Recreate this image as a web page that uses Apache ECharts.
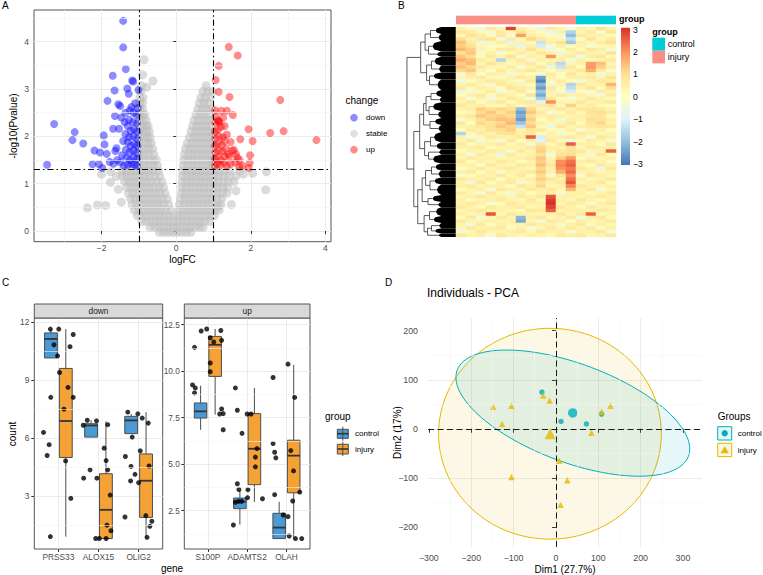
<!DOCTYPE html>
<html>
<head>
<meta charset="utf-8">
<script src="https://cdn.jsdelivr.net/npm/echarts@6/dist/echarts.min.js"></script>
<style>
html, body { margin: 0; padding: 0; background: #fff; }
#chart { width: 763px; height: 575px; }
</style>
</head>
<body>
<div id="chart"></div>
<script>
const FONT = '"Liberation Sans", Arial, Helvetica, sans-serif';
const MINUS = '\u2212';

// ---------- A: volcano (logFC, -log10 p) ----------
const volcanoDown = [
  [-1.42,4.44],[-1.42,3.88],[-1.35,3.42],[-1.70,3.28],[-1.18,3.18],[-1.15,3.16],[-1.65,2.97],[-1.31,3.01],
  [-1.27,2.90],[-1.01,2.98],[-1.84,2.75],[-1.55,2.68],[-1.50,2.64],[-1.64,2.43],[-3.27,2.26],[-2.72,2.09],
  [-2.78,1.92],[-2.49,1.85],[-1.94,2.02],[-1.92,1.83],[-2.19,1.70],[-2.04,1.66],[-1.86,1.63],[-2.24,1.41],
  [-2.07,1.41],[-1.98,1.33],[-3.46,1.40],[-1.78,1.46],[-1.63,1.69],[-1.69,2.16],[-1.53,2.16],
  [-1.05,1.38],[-1.12,1.40],[-1.20,1.42],[-1.30,1.40],[-1.40,1.38],[-1.50,1.45],[-1.05,1.52],[-1.14,1.55],
  [-1.24,1.50],[-1.34,1.55],[-1.45,1.60],[-1.05,1.66],[-1.15,1.70],[-1.25,1.66],[-1.35,1.72],[-1.04,1.80],
  [-1.12,1.84],[-1.22,1.80],[-1.30,1.88],[-1.42,1.90],[-1.05,1.95],[-1.15,2.00],[-1.26,1.98],[-1.36,2.05],
  [-1.04,2.10],[-1.13,2.15],[-1.22,2.12],[-1.30,2.22],[-1.05,2.28],[-1.16,2.30],[-1.26,2.35],[-1.38,2.30],
  [-1.06,2.45],[-1.14,2.50],[-1.24,2.55],[-1.03,2.60],[-1.10,2.70],[-1.36,2.50],[-1.58,1.50],[-1.60,1.75],
  [-1.68,1.42],[-1.47,2.40],[-1.20,2.62]
];
const volcanoUp = [
  [1.41,3.89],[1.65,3.71],[1.14,3.49],[1.06,3.19],[1.14,2.94],[1.43,2.83],[2.79,2.77],[1.21,2.54],
  [1.36,2.54],[1.52,2.45],[1.12,2.33],[1.94,2.15],[2.52,2.07],[2.88,2.11],[3.76,1.92],[2.05,1.90],
  [1.72,1.94],[1.55,1.71],[1.98,1.60],[1.97,1.44],[1.69,1.36],[1.94,1.33],[1.64,1.55],[1.42,1.57],
  [1.04,1.38],[1.10,1.42],[1.18,1.40],[1.28,1.44],[1.36,1.38],[1.46,1.42],[1.04,1.52],[1.12,1.56],
  [1.20,1.50],[1.30,1.58],[1.40,1.62],[1.05,1.66],[1.14,1.70],[1.24,1.68],[1.34,1.74],[1.50,1.70],
  [1.04,1.80],[1.12,1.85],[1.22,1.82],[1.30,1.90],[1.46,1.88],[1.05,1.96],[1.15,2.00],[1.25,1.98],
  [1.36,2.04],[1.04,2.10],[1.12,2.14],[1.20,2.20],[1.30,2.22],[1.05,2.28],[1.14,2.32],[1.06,2.42],
  [1.16,2.30],[1.26,2.40],[1.04,2.55],[1.58,1.45],[1.60,1.62],[1.70,1.50],[1.78,1.38]
];
// stable genes, by -log10 p level: [y, [logFC values]]
const stableRows = [
  [-0.03, [-0.45,-0.33,-0.21,-0.09,0.03,0.15,0.27,0.39]],
  [0.08, [-0.7,-0.58,-0.46,-0.34,-0.22,-0.1,0.02,0.14,0.26,0.38,0.5,0.62,0.72]],
  [0.2, [-0.92,-0.8,-0.68,-0.56,-0.44,-0.32,-0.2,-0.08,0.04,0.16,0.28,0.4,0.52,0.64,0.76,0.9]],
  [0.32, [-1.04,-0.92,-0.8,-0.68,-0.56,-0.44,-0.32,-0.2,-0.08,0.06,0.18,0.3,0.42,0.54,0.66,0.78,0.9,1.02]],
  [0.44, [-1.12,-1.0,-0.88,-0.76,-0.64,-0.52,-0.4,-0.28,-0.14,0.08,0.2,0.32,0.44,0.56,0.68,0.8,0.92,1.04,1.15]],
  [0.56, [-1.18,-1.06,-0.94,-0.82,-0.7,-0.58,-0.46,-0.34,-0.2,0.09,0.22,0.34,0.46,0.58,0.7,0.82,0.94,1.06,1.2]],
  [0.68, [-1.22,-1.1,-0.98,-0.86,-0.74,-0.62,-0.5,-0.38,-0.24,0.12,0.24,0.36,0.48,0.6,0.72,0.84,0.96,1.08,1.22]],
  [0.8, [-1.28,-1.16,-1.04,-0.92,-0.8,-0.68,-0.56,-0.44,-0.3,0.14,0.26,0.38,0.5,0.62,0.74,0.86,0.98,1.1,1.24,1.36]],
  [0.92, [-1.32,-1.2,-1.08,-0.96,-0.84,-0.72,-0.6,-0.46,-0.34,0.15,0.27,0.39,0.51,0.63,0.75,0.87,0.99,1.11,1.25,1.38]],
  [1.04, [-1.38,-1.26,-1.14,-1.02,-0.9,-0.78,-0.66,-0.52,-0.38,0.16,0.28,0.4,0.52,0.64,0.76,0.88,1.0,1.12,1.26,1.4,1.55]],
  [1.16, [-1.44,-1.32,-1.2,-1.08,-0.96,-0.84,-0.72,-0.58,-0.44,0.17,0.29,0.41,0.53,0.65,0.77,0.89,1.01,1.13,1.27,1.42,1.6]],
  [1.27, [-1.46,-1.34,-1.22,-1.1,-0.98,-0.86,-0.74,-0.62,-0.48,0.18,0.3,0.42,0.54,0.66,0.78,0.9,1.02,1.14,1.28,1.44,1.7]],
  [1.38, [-0.98,-0.86,-0.74,-0.62,-0.5,0.19,0.31,0.43,0.55,0.67,0.79,0.91,0.99]],
  [1.5, [-0.98,-0.86,-0.74,-0.62,-0.53,0.2,0.32,0.44,0.56,0.68,0.8,0.92,0.99]],
  [1.62, [-0.98,-0.86,-0.74,-0.6,0.22,0.34,0.46,0.58,0.7,0.82,0.94]],
  [1.74, [-0.98,-0.86,-0.74,-0.63,0.25,0.37,0.49,0.61,0.73,0.85,0.97]],
  [1.86, [-0.98,-0.87,-0.76,-0.67,0.3,0.42,0.54,0.66,0.78,0.9,0.99]],
  [1.98, [-0.98,-0.88,-0.78,-0.7,0.36,0.48,0.6,0.72,0.84,0.96]],
  [2.1, [-0.98,-0.88,-0.79,-0.72,0.4,0.52,0.64,0.76,0.88,0.98]],
  [2.22, [-0.98,-0.89,-0.8,-0.75,0.44,0.56,0.68,0.8,0.92]],
  [2.34, [-0.98,-0.9,-0.81,0.48,0.6,0.72,0.84,0.96]],
  [2.46, [-0.98,-0.9,-0.84,0.53,0.65,0.77,0.89]],
  [2.58, [-0.98,-0.9,0.58,0.7,0.82,0.94]],
  [2.7, [-0.98,-0.9,0.62,0.74,0.86]],
  [2.82, [-0.97,-0.89,0.66,0.78,0.92]],
  [2.95, [-0.95,0.72,0.84,0.97]],
  [3.07, [-0.93,0.8]]
];
const stableOutliers = [
  [-0.86,3.62],[-0.62,3.17],[-0.79,3.04],[-0.9,3.3],[2.42,1.25],[2.4,0.87],[1.48,0.56],[1.13,0.52],
  [-2.38,0.49],[-2.11,0.55],[-1.89,0.54],[-1.76,1.03],[-1.47,0.61],[-1.6,1.15],[-1.55,0.88],[1.6,0.85],
  [1.8,1.2],[2.05,1.22],[-2.0,1.2],[-1.75,1.25]
];
const volcanoStable = stableRows.flatMap(([y, xs]) => xs.map(x => [x, y])).concat(stableOutliers);
const pCut = 1.3;
const fcCut = 1;

// ---------- B: heatmap ----------
const sampleGroups = ['injury','injury','injury','injury','injury','injury','injury','injury',
  'injury','injury','injury','injury','control','control','control','control'];
const heatRows = [
  [0.4,0.2,-0.5,0.7,0.3,2.8,0.5,0.1,-0.6,0.6,0.3,-0.3,0.5,0.2,0.9,0.4],
  [0.8,0.6,0.2,-0.4,0.6,0.3,0.9,0.4,0.2,-0.7,0.5,-1.6,0.3,0.7,-0.3,0.8],
  [0.2,0.9,0.6,0.1,0.7,-0.3,1.8,0.6,0.3,0.1,-0.5,-2.0,0.7,0.4,0.5,0.1],
  [1.0,0.4,0.7,0.9,-0.4,0.6,0.2,1.1,0.7,0.4,0.2,-1.4,-0.3,0.8,0.2,0.6],
  [1.4,0.7,-0.6,0.3,0.6,-0.9,0.4,0.2,-1.3,0.5,0.9,-1.8,0.5,0.3,0.6,1.0],
  [1.2,0.9,0.3,-0.3,0.1,0.4,-0.7,0.5,-1.1,-0.4,0.5,0.1,0.4,-0.4,0.2,0.3],
  [1.5,1.2,0.4,0.2,0.6,0.7,0.3,0.9,0.4,-0.6,0.1,0.6,0.2,0.8,0.5,-0.4],
  [0.9,1.3,-0.4,0.5,-0.4,0.2,0.6,0.3,0.7,0.4,-0.7,0.3,0.7,0.4,0.3,0.9],
  [1.3,1.0,0.2,0.7,0.4,0.9,-0.3,0.5,0.3,1.9,0.4,0.6,-0.5,0.6,0.8,0.2],
  [1.6,1.4,0.6,0.3,-1.6,0.4,0.7,-0.4,0.5,0.2,0.6,-0.5,0.5,0.1,0.4,0.7],
  [1.2,1.5,0.3,0.8,0.5,0.1,0.4,0.7,0.2,0.6,-1.5,0.3,0.4,1.8,1.4,0.3],
  [1.4,1.1,0.7,0.4,0.2,0.6,-0.4,0.4,0.7,-0.7,-1.3,0.7,0.1,1.9,1.2,0.5],
  [1.1,1.3,0.4,-0.3,0.7,0.3,0.5,0.8,0.4,0.1,0.5,0.4,0.7,1.6,0.6,-0.3],
  [-0.4,0.7,-0.3,0.5,0.4,-0.5,0.3,0.1,-0.5,0.6,-0.3,0.8,0.3,0.5,-0.4,0.4],
  [0.3,0.5,0.7,0.2,0.1,0.4,0.7,0.5,-2.4,0.4,0.1,0.5,0.5,0.7,0.3,0.8],
  [-0.6,0.1,0.4,0.7,0.6,0.3,-0.3,0.7,-2.8,0.2,0.6,0.1,-0.4,0.4,0.7,0.5],
  [0.4,0.6,0.3,-0.4,0.7,0.5,0.4,0.2,-2.1,-0.6,0.4,-1.6,0.7,0.3,0.5,1.5],
  [0.7,0.2,0.5,0.4,0.1,0.8,0.6,0.4,-2.5,0.7,0.2,-1.4,0.4,0.8,0.1,1.0],
  [-0.6,-0.4,0.2,0.6,-0.5,0.3,0.7,-0.3,-1.9,0.4,-0.5,-1.1,0.1,-0.4,0.6,0.4],
  [0.1,0.5,0.7,0.2,0.6,0.4,0.1,0.8,-2.3,0.3,0.7,0.4,0.5,0.3,-0.5,0.7],
  [0.5,-0.3,0.4,-0.5,0.3,0.7,0.4,-0.4,-1.7,0.7,0.1,-0.4,0.3,0.7,0.4,0.2],
  [0.3,0.7,0.1,0.4,0.7,0.2,0.5,0.7,-0.9,2.0,0.4,0.3,0.7,0.4,0.5,0.7],
  [0.7,0.4,0.5,0.2,0.1,0.6,0.3,0.4,0.6,0.7,0.3,1.2,0.4,0.6,0.2,0.1],
  [0.4,0.5,1.2,1.0,1.1,0.9,-2.0,1.1,0.3,0.5,0.7,0.4,0.7,0.8,0.7,0.4],
  [0.1,0.3,1.0,1.3,0.8,1.2,-2.4,1.3,0.7,-0.4,0.1,0.7,0.3,0.9,1.0,0.7],
  [0.5,0.7,1.3,1.1,1.2,1.0,-2.2,0.9,0.4,0.6,0.5,0.3,0.5,0.7,0.8,0.2],
  [-0.3,0.4,0.9,1.2,1.4,1.3,-2.5,1.2,0.1,0.4,-0.5,0.5,0.4,1.0,0.9,0.5],
  [0.7,0.1,1.1,0.8,1.1,1.5,-1.9,1.0,0.5,0.2,0.4,0.7,0.1,0.8,1.1,0.4],
  [0.4,0.5,0.7,1.0,1.3,1.1,-1.3,1.3,0.2,-0.6,0.7,0.3,0.5,0.6,0.7,0.7],
  [0.1,0.7,0.5,0.9,1.0,1.2,0.4,0.8,0.7,0.2,0.1,0.5,-0.3,0.4,0.5,0.1],
  [-1.6,0.3,0.6,0.4,0.8,0.9,0.5,0.6,0.1,0.5,-0.4,0.2,0.7,0.5,0.3,0.4],
  [0.5,-0.4,0.3,0.7,0.5,0.4,0.7,2.5,-1.1,0.4,0.5,0.7,0.4,-0.3,0.7,0.5],
  [0.3,0.7,-0.5,0.3,-0.4,0.7,0.1,0.5,-1.0,0.7,0.2,-0.5,0.1,0.6,0.4,-0.4],
  [0.7,0.1,0.4,0.5,0.7,0.2,0.5,-0.4,0.7,0.2,0.7,2.5,0.5,0.4,0.1,0.7],
  [0.4,0.5,0.7,0.1,0.3,0.5,0.4,0.7,1.1,0.5,0.4,0.8,0.3,0.7,0.5,0.4],
  [0.1,0.4,0.3,0.7,0.5,-0.3,0.7,0.3,1.2,0.4,0.7,0.9,0.7,0.3,0.4,2.5],
  [0.5,-0.4,0.7,0.4,-0.6,0.7,0.3,0.5,1.0,-0.4,0.9,1.0,0.4,-0.5,0.7,0.2],
  [0.3,0.7,0.4,0.5,0.3,0.4,0.5,0.7,1.3,0.3,1.2,1.8,0.1,0.4,0.3,0.5],
  [0.7,0.1,0.5,0.3,0.7,0.5,0.1,0.4,1.2,0.5,2.0,2.3,0.5,0.7,0.4,0.1],
  [0.4,0.5,-0.3,0.7,0.4,0.3,0.7,0.5,1.4,0.7,2.1,2.5,0.3,0.1,0.7,0.4],
  [0.1,0.4,0.7,0.3,0.5,0.7,0.4,0.3,1.1,0.4,1.9,2.2,0.7,0.4,-0.6,0.7],
  [0.5,0.7,0.1,0.5,-0.3,0.4,0.5,0.7,1.3,0.5,1.6,2.4,0.4,0.5,0.3,0.4],
  [-0.4,0.1,0.5,0.4,0.7,0.3,0.7,0.1,1.0,-0.3,0.8,2.0,-0.3,0.7,0.5,0.3],
  [0.7,0.5,0.4,0.7,0.1,0.5,0.3,0.5,1.2,0.7,0.5,2.3,0.5,0.3,0.4,0.7],
  [0.4,-0.5,0.7,0.1,0.5,0.7,-0.4,0.3,0.9,0.4,0.7,2.6,0.3,0.5,0.7,0.1],
  [0.5,0.7,0.3,0.5,0.4,0.1,0.7,0.5,1.1,0.3,0.4,2.1,0.7,0.4,0.3,0.5],
  [0.1,0.4,0.5,-0.4,0.7,0.5,0.3,0.7,0.5,0.7,0.3,1.5,0.4,0.7,-0.4,0.3],
  [0.7,0.3,-0.4,0.7,0.3,-0.5,0.5,0.1,0.4,0.5,-0.4,0.4,0.5,0.1,0.4,0.7],
  [0.3,0.5,0.7,0.4,0.5,0.3,0.7,0.4,0.7,2.6,0.4,0.5,0.3,0.5,0.7,0.4],
  [0.5,0.1,0.3,0.5,0.7,0.4,0.3,0.7,0.3,2.9,0.5,0.3,0.7,0.4,0.1,0.5],
  [0.4,0.7,0.5,-0.3,0.1,0.7,0.4,0.5,0.5,3.0,0.3,0.7,0.4,-0.3,0.5,0.7],
  [0.7,0.4,0.1,0.7,0.4,0.5,0.7,0.3,0.4,2.8,0.7,0.4,0.1,0.7,0.4,0.3],
  [0.3,0.5,0.7,0.4,0.5,0.3,0.1,0.7,0.7,2.5,0.4,0.5,0.5,0.4,0.7,0.5],
  [0.5,0.3,0.4,2.6,0.3,0.7,0.5,0.4,0.3,0.5,0.7,0.3,0.7,2.5,0.3,0.4],
  [0.1,0.7,-0.4,0.3,0.7,0.4,-2.1,0.5,0.7,0.3,0.4,0.7,-0.5,0.5,0.7,0.1],
  [0.7,0.4,0.3,0.5,0.4,0.5,-2.3,0.3,-0.4,0.7,0.5,0.1,0.5,0.3,0.4,0.7],
  [0.4,-0.5,0.7,0.1,0.5,0.3,0.4,0.7,0.5,0.4,-0.3,0.5,0.7,-0.4,0.5,0.3],
  [0.3,0.7,0.4,0.5,0.7,0.1,0.5,-0.4,0.3,0.7,0.4,0.7,0.3,0.7,0.1,0.5],
  [-0.5,0.3,0.7,0.4,0.3,0.5,0.7,0.3,0.7,0.4,0.5,-0.3,0.4,0.5,0.7,-0.4],
  [0.7,0.4,0.5,-0.3,0.7,0.4,0.3,0.5,0.4,0.3,0.7,0.5,0.7,0.3,0.4,0.7]
];
// dendrogram: leaf clusters [firstRow, lastRow, height] and merges [nodeA, nodeB, height]
const dendroLeaves = [
  [0,2,4.2],[2,4,3.6],[4,7,4.8],[7,8.5,3.9],[8.5,11,4.4],[11,13,3.5],[13,15,4.6],[15,18,3.8],
  [18,20,4.1],[20,21.5,3.4],[21.5,24,4.7],[24,26,3.7],[26,28,4.3],[28,30,3.6],[30,33,4.5],
  [33,35,4.0],[35,36.5,3.5],[36.5,39,4.7],[39,41,4.2],[41,43,3.6],[43,45,4.4],[45,48,3.9],
  [48,50,4.8],[50,51.5,3.7],[51.5,54,4.1],[54,56,4.6],[56,57.5,3.5],[57.5,59,4.3],[59,60,3.6]
];
const dendroMerges = [
  [0,1,5.2],[2,3,5.6],[29,30,6.3],[4,5,5.0],[6,7,5.4],[32,33,6.0],[31,34,7.2],
  [8,9,5.1],[10,11,5.5],[36,37,6.1],[12,13,5.3],[38,39,6.6],[14,15,5.2],[16,17,5.6],
  [41,42,6.4],[40,43,7.4],[18,19,5.0],[20,21,5.3],[45,46,6.2],[22,23,5.7],[47,48,6.9],
  [24,25,5.4],[26,27,5.0],[51,28,5.8],[50,52,6.5],[49,53,7.8],[44,54,8.6],[35,55,10]
];

// ---------- C: boxplots ----------
const downGenes = ['PRSS33','ALOX15','OLIG2'];
const upGenes = ['S100P','ADAMTS2','OLAH'];
// [min, q1, median, q3, max]
const downControl = [[10.14,10.14,11.12,11.43,11.63],[6.06,6.06,6.66,6.75,6.93],[6.24,6.24,6.92,7.13,7.26]];
const downInjury = [[0.93,5.01,6.89,9.60,11.63],[0.83,0.83,2.31,4.17,6.87],[0.85,1.92,3.81,5.19,7.35]];
const upControl = [[6.85,7.48,7.84,8.29,9.22],[1.75,2.61,2.99,3.18,3.60],[1.0,1.0,1.59,2.36,2.98]];
const upInjury = [[7.66,9.72,11.42,11.87,12.27],[2.97,3.90,5.83,7.72,9.10],[1.0,3.46,5.46,6.29,10.34]];
// [gene index, jitter, count]
const downPoints = [
  [0,-0.20,11.63],[0,0.01,11.63],[0,-0.11,10.82],[0,-0.02,10.25],[0,0.03,9.39],[0,0.29,10.72],
  [0,0.37,11.35],[0,0.24,8.62],[0,0.37,8.11],[0,0.14,7.50],[0,-0.37,6.30],[0,-0.23,5.67],
  [0,-0.28,5.11],[0,-0.19,8.11],[0,0.18,4.83],[0,0.31,2.90],[0,-0.20,0.93],
  [1,-0.38,6.67],[1,-0.28,6.93],[1,-0.05,6.90],[1,-0.21,4.37],[1,-0.37,3.94],[1,-0.04,3.94],
  [1,0.14,5.49],[1,0.19,4.85],[1,0.23,4.37],[1,0.23,6.70],[1,0.29,3.07],[1,0.31,1.23],
  [1,0.21,1.52],[1,-0.07,0.83],[1,0.02,0.83],[1,0.19,0.83],
  [2,-0.27,7.35],[2,-0.02,7.26],[2,0.09,7.04],[2,-0.16,6.06],[2,-0.33,5.06],[2,0.04,5.35],
  [2,-0.19,4.55],[2,-0.09,4.14],[2,-0.20,3.80],[2,0.00,3.71],[2,0.26,4.57],[2,0.24,6.78],
  [2,-0.34,1.94],[2,0.18,2.01],[2,0.33,1.72],[2,0.28,1.46],[2,0.21,0.89]
];
const upPoints = [
  [0,-0.34,11.28],[0,-0.17,12.16],[0,-0.03,12.27],[0,0.06,11.80],[0,0.15,11.57],[0,0.33,12.19],
  [0,0.35,11.66],[0,0.06,10.44],[0,0.06,9.97],[0,-0.39,9.26],[0,-0.32,9.10],[0,-0.34,8.83],
  [0,0.35,7.97],[0,0.30,7.70],[0,0.39,7.72],[0,0.39,6.85],
  [1,-0.30,9.10],[1,-0.25,7.90],[1,-0.13,6.66],[1,0.00,7.70],[1,0.10,7.70],[1,0.25,5.84],
  [1,0.21,5.38],[1,0.21,4.86],[1,-0.25,3.95],[1,-0.21,3.64],[1,0.02,3.63],[1,-0.35,1.73],
  [1,-0.30,2.95],[1,-0.22,3.00],[1,-0.14,3.00],[1,0.01,3.20],[1,0.39,3.14],
  [2,-0.34,9.66],[2,0.04,10.38],[2,0.21,8.59],[2,-0.34,6.11],[2,-0.30,5.64],[2,-0.27,5.34],
  [2,0.11,5.73],[2,0.18,4.64],[2,0.34,3.50],[2,0.16,3.02],[2,-0.30,3.36],[2,-0.08,2.27],
  [2,0.04,2.18],[2,0.07,1.14],[2,0.23,1.00],[2,0.39,1.00]
];

// ---------- D: PCA ----------
const pcaControl = [[-33,75],[12,15],[72,10],[108,30]];
const pcaInjury = [[-148,45],[-105,47],[-127,10],[-30,68],[-15,58],[108,35],[129,47],[84,-8],
  [8,-65],[27,-105],[11,-155],[-105,-98]];
// [cx, cy, semi-axis a, semi-axis b, angle in degrees]
const ellipseInjury = [-14,-10,263,215,0];
const ellipseControl = [40,32,287,102,-17];

// ---------- colours ----------
const C_CONTROL = '#4B9AD5', C_INJURY = '#F4A236';
const PCA_CONTROL = '#00AFBB', PCA_INJURY = '#E7B800';
const ANNOT = { control: '#00CED6', injury: '#F98F87' };
const HEAT = ['#4575B4','#91BFDB','#E0F3F8','#FFFFBF','#FEE090','#FC8D59','#D73027'];

const fmtNum = v => String(v).replace('-', MINUS);
const mean = (pts, i) => pts.reduce((s, p) => s + p[i], 0) / pts.length;

function valueAxis(gi, min, max, step, ticks, fmt, o = {}) {
  return {
    type: 'value', gridIndex: gi, min, max, minInterval: step, maxInterval: step,
    axisLine: { show: false },
    axisTick: { show: true, length: o.tickLen || 3, customValues: ticks, lineStyle: { color: '#333', width: 1 } },
    axisLabel: { customValues: ticks, formatter: fmt, fontSize: o.fontSize || 8.5, color: '#4D4D4D',
      fontFamily: FONT, margin: o.margin || 4 },
    splitLine: { show: true, showMinLine: !o.noEdge, showMaxLine: !o.noEdge, lineStyle: { color: '#EBEBEB', width: 1 } }
  };
}

function minorLines(gi, xs, ys, z) {
  return {
    type: 'scatter', xAxisIndex: gi, yAxisIndex: gi, data: [], silent: true, z: z || 1,
    markLine: {
      silent: true, symbol: ['none', 'none'], label: { show: false }, animation: false,
      lineStyle: { color: '#F4F4F4', width: 0.6, type: 'solid' },
      data: xs.map(v => ({ xAxis: v })).concat(ys.map(v => ({ yAxis: v })))
    }
  };
}

// dendrogram layout from merges
const dendroNodes = dendroLeaves.map(l => ({ y: (l[0] + l[1]) / 2, h: l[2] }));
const dendroBrackets = [];
dendroMerges.forEach(m => {
  const a = dendroNodes[m[0]], b = dendroNodes[m[1]];
  dendroBrackets.push([a.y, b.y, a.h, b.h, m[2]]);
  dendroNodes.push({ y: (a.y + b.y) / 2, h: m[2] });
});
const LEAF_SOLID = 3.0;

const heatData = [];
heatRows.forEach((row, r) => row.forEach((v, c) => heatData.push([c, r, v])));

const BOX_DODGE = 0.185, BOX_HALF = 0.16;
function boxSeries(gi, stats, dodge, color) {
  return {
    type: 'custom', xAxisIndex: gi, yAxisIndex: gi, z: 3, silent: true,
    data: stats.map((s, i) => [i + 1 + dodge].concat(s)),
    encode: { x: 0, y: [1, 2, 3, 4, 5] },
    renderItem: (params, api) => {
      const x = api.value(0);
      const lo = api.value(1), q1 = api.value(2), md = api.value(3), q3 = api.value(4), hi = api.value(5);
      const tl = api.coord([x - BOX_HALF, q3]), br = api.coord([x + BOX_HALF, q1]);
      const c = api.coord([x, md]), pLo = api.coord([x, lo]), pHi = api.coord([x, hi]);
      const line = (x1, y1, x2, y2, w, col) => ({ type: 'line', shape: { x1, y1, x2, y2 },
        style: { stroke: col || '#4D4D4D', lineWidth: w || 1 } });
      return { type: 'group', children: [
        line(c[0], pHi[1], c[0], tl[1]),
        line(c[0], br[1], c[0], pLo[1]),
        { type: 'rect', shape: { x: tl[0], y: tl[1], width: br[0] - tl[0], height: br[1] - tl[1] },
          style: { fill: color, stroke: '#4D4D4D', lineWidth: 1 } },
        line(tl[0], c[1], br[0], c[1], 1.8, '#333')
      ] };
    }
  };
}
function pointSeries(gi, pts) {
  return {
    type: 'scatter', xAxisIndex: gi, yAxisIndex: gi, z: 4, silent: true, symbolSize: 5,
    itemStyle: { color: '#000' }, data: pts.map(p => [p[0] + 1 + p[1], p[2]])
  };
}

function txt(x, y, text, o = {}) {
  return { type: 'text', x, y, rotation: o.rot || 0, silent: true, z: 100,
    style: { text, fill: o.color || '#000', fontSize: o.size || 10, fontFamily: FONT,
      fontWeight: o.weight || 'normal', align: o.align || 'left', textAlign: o.align || 'left',
      verticalAlign: 'middle', textVerticalAlign: 'middle' } };
}
function rect(x, y, w, h, fill, stroke, lw) {
  return { type: 'rect', silent: true, z: 90, shape: { x, y, width: w, height: h },
    style: { fill, stroke: stroke || null, lineWidth: lw || 0 } };
}
function seg(x1, y1, x2, y2, stroke, lw) {
  return { type: 'line', silent: true, z: 91, shape: { x1, y1, x2, y2 }, style: { stroke, lineWidth: lw || 1 } };
}

const heatLabels = [3, 2, 1, 0, -1, -2, -3];
const graphics = [
  txt(2, 5.5, 'A'), txt(398, 5.5, 'B'), txt(2, 282.5, 'C'), txt(385, 282.5, 'D'),
  // A
  txt(182.5, 259.5, 'logFC', { align: 'center' }),
  txt(13, 126, '-log10(Pvalue)', { rot: Math.PI / 2, align: 'center' }),
  txt(345.5, 100.5, 'change'),
  { type: 'circle', silent: true, z: 90, shape: { cx: 354, cy: 117.7, r: 3.8 }, style: { fill: '#8C8CFF' } },
  { type: 'circle', silent: true, z: 90, shape: { cx: 354, cy: 133.7, r: 3.8 }, style: { fill: '#E0E0E0' } },
  { type: 'circle', silent: true, z: 90, shape: { cx: 354, cy: 149.7, r: 3.8 }, style: { fill: '#FF8C8C' } },
  txt(366, 117.7, 'down', { size: 8 }), txt(366, 133.7, 'stable', { size: 8 }), txt(366, 149.7, 'up', { size: 8 }),
  // B colour bar and legends
  txt(619, 19, 'group', { size: 9, weight: 'bold' }),
  { type: 'rect', silent: true, z: 90, shape: { x: 621, y: 27.7, width: 9, height: 137.3 },
    style: { fill: { type: 'linear', x: 0, y: 0, x2: 0, y2: 1,
      colorStops: HEAT.slice().reverse().map((c, i) => ({ offset: i / 6, color: c })) } } },
  ...heatLabels.map(v => txt(633, 29.6 + (3 - v) * 22.4, fmtNum(v), { size: 8.6 })),
  txt(652.3, 32, 'group', { size: 9, weight: 'bold' }),
  rect(652.3, 37.7, 12.7, 13, ANNOT.control), rect(652.3, 50.7, 12.7, 12.7, ANNOT.injury),
  txt(667.7, 44.2, 'control', { size: 9 }), txt(667.7, 57, 'injury', { size: 9 }),
  // C strips, titles, legend
  rect(34.3, 304, 128.4, 14, '#D9D9D9', '#555', 1), rect(184.3, 304, 125.7, 14, '#D9D9D9', '#555', 1),
  txt(98.5, 311, 'down', { size: 8.4, color: '#1A1A1A', align: 'center' }),
  txt(247.2, 311, 'up', { size: 8.4, color: '#1A1A1A', align: 'center' }),
  txt(12, 434, 'count', { rot: Math.PI / 2, align: 'center' }),
  txt(172, 568.5, 'gene', { align: 'center' }),
  txt(325, 416.7, 'group'),
  seg(342.8, 426.7, 342.8, 440.7, '#4D4D4D'), rect(337.3, 429.3, 11, 9, C_CONTROL, '#4D4D4D', 1),
  seg(337.3, 433.7, 348.3, 433.7, '#333', 1.6),
  seg(342.8, 441.7, 342.8, 456, '#4D4D4D'), rect(337.3, 444.3, 11, 9.7, C_INJURY, '#4D4D4D', 1),
  seg(337.3, 449, 348.3, 449, '#333', 1.6),
  txt(355, 433.7, 'control', { size: 8 }), txt(355, 449, 'injury', { size: 8 }),
  // D titles and legend
  txt(427, 292.7, 'Individuals - PCA', { size: 12 }),
  txt(565, 569, 'Dim1 (27.7%)', { align: 'center' }),
  txt(397, 432.5, 'Dim2 (17%)', { rot: Math.PI / 2, align: 'center' }),
  txt(717.7, 416.7, 'Groups'),
  rect(717.7, 426.7, 14, 13.3, '#E5F7F8', PCA_CONTROL, 1),
  { type: 'circle', silent: true, z: 92, shape: { cx: 724.7, cy: 433.3, r: 3.2 }, style: { fill: PCA_CONTROL } },
  rect(717.7, 443.3, 14, 13.3, '#FCF7E5', PCA_INJURY, 1),
  { type: 'polygon', silent: true, z: 92, shape: { points: [[724.7, 446.3], [728.9, 453.3], [720.5, 453.3]] },
    style: { fill: PCA_INJURY } },
  txt(737.7, 433.5, 'control', { size: 8 }), txt(737.7, 450, 'injury', { size: 8 })
];

const option = {
  animation: false,
  backgroundColor: '#fff',
  textStyle: { fontFamily: FONT },
  grid: [
    { left: 34, top: 10, width: 297, height: 231.7, show: true, borderColor: '#555', borderWidth: 1, backgroundColor: '#fff' },
    { left: 404, top: 27, width: 52, height: 210 },
    { left: 456, top: 27, width: 160, height: 210 },
    { left: 456, top: 15.7, width: 160, height: 8.6 },
    { left: 34.3, top: 318, width: 128.4, height: 231, show: true, borderColor: '#555', borderWidth: 1, backgroundColor: '#fff' },
    { left: 184.3, top: 318, width: 125.7, height: 231, show: true, borderColor: '#555', borderWidth: 1, backgroundColor: '#fff' },
    { left: 428, top: 318, width: 274, height: 229 }
  ],
  xAxis: [
    valueAxis(0, -3.81, 4.15, 2, [-2, 0, 2, 4], fmtNum, { margin: 2 }),
    { type: 'value', gridIndex: 1, min: 0, max: 10.6, inverse: true, show: false },
    { type: 'category', gridIndex: 2, data: sampleGroups.map((g, i) => g + (i + 1)), show: false },
    { type: 'category', gridIndex: 3, data: sampleGroups.map((g, i) => g + (i + 1)), show: false },
    valueAxis(4, 0.4, 3.6, 1, [1, 2, 3], v => downGenes[Math.round(v) - 1], { fontSize: 8.3, margin: 3.5 }),
    valueAxis(5, 0.4, 3.6, 1, [1, 2, 3], v => upGenes[Math.round(v) - 1], { fontSize: 8.3, margin: 3.5 }),
    valueAxis(6, -302, 345, 100, [-300, -200, -100, 0, 100, 200, 300], fmtNum, { fontSize: 8.8, margin: 6, tickLen: 4, noEdge: true })
  ],
  yAxis: [
    valueAxis(0, -0.226, 4.67, 1, [0, 1, 2, 3, 4], fmtNum, { margin: 5 }),
    { type: 'value', gridIndex: 1, min: 0, max: 60, inverse: true, show: false },
    { type: 'category', gridIndex: 2, data: heatRows.map((r, i) => 'g' + i), inverse: true, show: false },
    { type: 'value', gridIndex: 3, min: 0, max: 1, show: false },
    valueAxis(4, 0.29, 12.2, 3, [3, 6, 9, 12], v => String(v), { fontSize: 8.3, margin: 5 }),
    valueAxis(5, 0.44, 12.86, 2.5, [2.5, 5, 7.5, 10, 12.5], v => v.toFixed(1), { fontSize: 8.3, margin: 4.5 }),
    valueAxis(6, -241, 226, 100, [-200, -100, 0, 100, 200], fmtNum, { fontSize: 8.8, margin: 10, tickLen: 4, noEdge: true })
  ],
  visualMap: {
    type: 'continuous', min: -3, max: 3, show: false, seriesIndex: 6, dimension: 2,
    inRange: { color: HEAT }
  },
  series: [
    // 0-3: volcano
    minorLines(0, [-3, -1, 1, 3], [0.5, 1.5, 2.5, 3.5, 4.5]),
    { type: 'scatter', xAxisIndex: 0, yAxisIndex: 0, symbolSize: 9, silent: true, z: 2,
      itemStyle: { color: '#BEBEBE', opacity: 0.55 }, data: volcanoStable },
    { type: 'scatter', xAxisIndex: 0, yAxisIndex: 0, symbolSize: 8, silent: true, z: 2,
      itemStyle: { color: '#0000FF', opacity: 0.45 }, data: volcanoDown },
    { type: 'scatter', xAxisIndex: 0, yAxisIndex: 0, symbolSize: 8, silent: true, z: 2,
      itemStyle: { color: '#FF0000', opacity: 0.45 }, data: volcanoUp,
      markLine: { silent: true, symbol: ['none', 'none'], label: { show: false }, animation: false, z: 5,
        lineStyle: { color: '#000', width: 1.1, type: [6, 3, 1.5, 3] },
        data: [{ xAxis: -fcCut }, { xAxis: fcCut }, { yAxis: pCut }] } },
    // 4-7: heatmap with dendrogram and annotation
    { type: 'custom', xAxisIndex: 1, yAxisIndex: 1, silent: true, data: dendroLeaves,
      encode: { x: 2, y: [0, 1] },
      renderItem: (params, api) => {
        const y0 = api.value(0), y1 = api.value(1), h = api.value(2), sp = y1 - y0;
        const pts = [[0, y0], [LEAF_SOLID, y0], [h * 0.92, y0 + sp * 0.18], [h, (y0 + y1) / 2],
          [h * 0.92, y1 - sp * 0.18], [LEAF_SOLID, y1], [0, y1]].map(p => api.coord(p));
        return { type: 'polygon', shape: { points: pts }, style: { fill: '#000' } };
      } },
    { type: 'custom', xAxisIndex: 1, yAxisIndex: 1, silent: true, data: dendroBrackets,
      encode: { x: [2, 3, 4], y: [0, 1] },
      renderItem: (params, api) => {
        const y1 = api.value(0), y2 = api.value(1), h1 = api.value(2), h2 = api.value(3), h = api.value(4);
        const pts = [[h1, y1], [h, y1], [h, y2], [h2, y2]].map(p => api.coord(p));
        return { type: 'polyline', shape: { points: pts }, style: { stroke: '#333', lineWidth: 0.8, fill: null } };
      } },
    { type: 'heatmap', xAxisIndex: 2, yAxisIndex: 2, silent: true, data: heatData,
      itemStyle: { borderWidth: 0 }, emphasis: { disabled: true } },
    { type: 'bar', xAxisIndex: 3, yAxisIndex: 3, silent: true, barCategoryGap: '0%',
      data: sampleGroups.map(g => ({ value: 1, itemStyle: { color: ANNOT[g] } })) },
    // 8-11: down facet
    minorLines(4, [], [1.5, 4.5, 7.5, 10.5]),
    boxSeries(4, downControl, -BOX_DODGE, C_CONTROL),
    boxSeries(4, downInjury, BOX_DODGE, C_INJURY),
    pointSeries(4, downPoints),
    // 12-15: up facet
    minorLines(5, [], [1.25, 3.75, 6.25, 8.75, 11.25]),
    boxSeries(5, upControl, -BOX_DODGE, C_CONTROL),
    boxSeries(5, upInjury, BOX_DODGE, C_INJURY),
    pointSeries(5, upPoints),
    // 16-21: PCA
    minorLines(6, [-250, -150, -50, 50, 150, 250], [-150, -50, 50, 150]),
    { type: 'custom', xAxisIndex: 6, yAxisIndex: 6, silent: true, z: 2,
      data: [ellipseInjury.concat([0]), ellipseControl.concat([1])],
      encode: { x: 0, y: 1 },
      renderItem: (params, api) => {
        const cx = api.value(0), cy = api.value(1), a = api.value(2), b = api.value(3);
        const th = api.value(4) * Math.PI / 180, isControl = api.value(5) === 1;
        const pts = [];
        for (let k = 0; k < 120; k++) {
          const t = k / 120 * Math.PI * 2;
          pts.push(api.coord([cx + a * Math.cos(t) * Math.cos(th) - b * Math.sin(t) * Math.sin(th),
                              cy + a * Math.cos(t) * Math.sin(th) + b * Math.sin(t) * Math.cos(th)]));
        }
        return { type: 'polygon', shape: { points: pts },
          style: { fill: isControl ? 'rgba(0,175,187,0.1)' : 'rgba(231,184,0,0.1)',
                   stroke: isControl ? PCA_CONTROL : PCA_INJURY, lineWidth: 1 } };
      },
      markLine: { silent: true, symbol: ['none', 'none'], label: { show: false }, animation: false,
        lineStyle: { color: '#1A1A1A', width: 1, type: [6, 3.5] },
        data: [{ xAxis: 0 }, { yAxis: 0 }] } },
    { type: 'scatter', xAxisIndex: 6, yAxisIndex: 6, silent: true, z: 4, symbol: 'circle', symbolSize: 5.5,
      itemStyle: { color: PCA_CONTROL }, data: pcaControl },
    { type: 'scatter', xAxisIndex: 6, yAxisIndex: 6, silent: true, z: 4, symbol: 'triangle', symbolSize: 6.5,
      itemStyle: { color: PCA_INJURY }, data: pcaInjury },
    { type: 'scatter', xAxisIndex: 6, yAxisIndex: 6, silent: true, z: 4, symbol: 'circle', symbolSize: 9.5,
      itemStyle: { color: PCA_CONTROL }, data: [[mean(pcaControl, 0), mean(pcaControl, 1)]] },
    { type: 'scatter', xAxisIndex: 6, yAxisIndex: 6, silent: true, z: 4, symbol: 'triangle', symbolSize: 11,
      itemStyle: { color: PCA_INJURY }, data: [[mean(pcaInjury, 0), mean(pcaInjury, 1)]] }
  ],
  graphic: graphics
};

const chart = echarts.init(document.getElementById('chart'), null, { renderer: 'svg', width: 763, height: 575 });
chart.setOption(option);
</script>
</body>
</html>
